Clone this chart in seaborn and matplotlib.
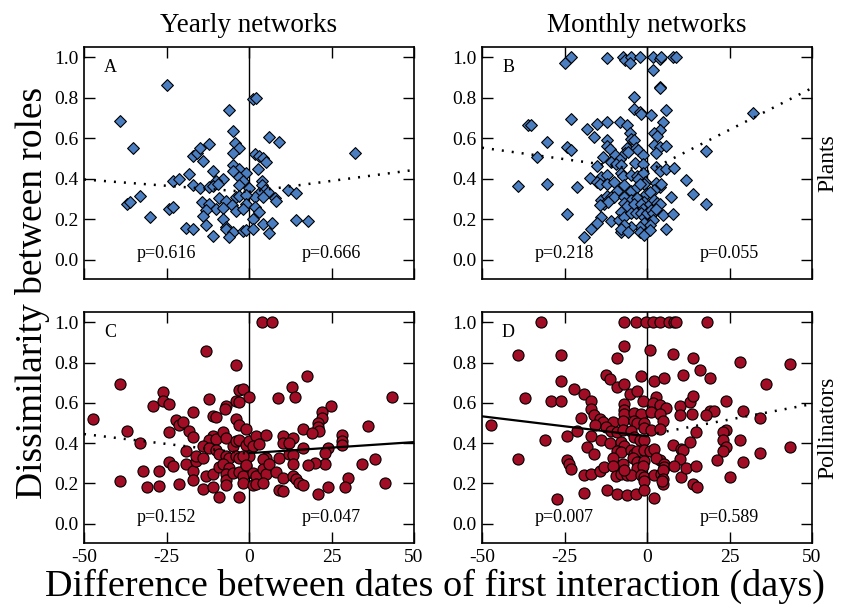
import numpy as np
import pandas as pd
import matplotlib
matplotlib.use("Agg")
import matplotlib.pyplot as plt
import seaborn as sns

# ---------------- data ----------------
# Panel A: yearly networks, plants
A_x = [-39.1, -35.1, -25.0, -37.1, -36.1, -33.0, -30.0, -24.1, -23.1, -23.1, -21.1, -18.1,
       -17.1, -17.1, -15.9, -19.1, -16.9,
       1.1, 2.1, -6.0, -5.0, 6.1, 9.1, -4.2, -2.9, -12.0, -14.8, -5.0, 1.8, 3.1, 4.1, 5.0,
       -14.0, -5.0, 2.8, -2.9, -11.0, -5.0, -0.9, -2.9, -1.9, -8.0, -10.0, 3.9, 3.9, -14.8,
       -12.0, -11.0, -9.3, -2.9, 0.1, 11.9, 14.2, 4.8, 5.9, 3.1, 1.8, 4.3, 7.9, 8.2, -3.9,
       -2.9, -0.9, -9.0, -7.0, -14.3, -12.0, -5.3, -0.9, 1.8, -10.0, -8.0, -3.9, -1.9, 3.1,
       -13.0, -14.0, -8.0, 1.1, 14.2, 18.0, 4.1, 7.1, -13.0, -7.0, -7.0, -5.0, -1.9, -0.9,
       1.1, 6.1, -11.0, -6.0, 32.1]
A_y = [0.686, 0.550, 0.863, 0.274, 0.285, 0.314, 0.211, 0.252, 0.258, 0.388, 0.396, 0.422,
       0.371, 0.512, 0.528, 0.158, 0.153,
       0.792, 0.797, 0.739, 0.637, 0.607, 0.579, 0.578, 0.550, 0.569, 0.554, 0.525, 0.521,
       0.512, 0.500, 0.483, 0.488, 0.467, 0.447, 0.447, 0.439, 0.437, 0.429, 0.409, 0.389,
       0.396, 0.389, 0.389, 0.368, 0.356, 0.360, 0.363, 0.373, 0.368, 0.356, 0.343, 0.327,
       0.343, 0.335, 0.327, 0.310, 0.310, 0.302, 0.289, 0.310, 0.314, 0.318, 0.302, 0.290,
       0.285, 0.277, 0.269, 0.277, 0.261, 0.252, 0.257, 0.241, 0.252, 0.236, 0.244, 0.215,
       0.203, 0.203, 0.195, 0.191, 0.175, 0.182, 0.170, 0.162, 0.149, 0.137, 0.142, 0.145,
       0.149, 0.132, 0.116, 0.112, 0.528]

# Panel B: monthly networks, plants
B_x = [-24.9, -23.1, -36.1, -35.1, -30.2, -33.2, -23.1, -24.1, -22.9, -18.1, -16.1, -39.1,
       -30.2, -21.1, -24.1, -19.1, -17.1, -17.4,
       -12.0, -7.3, -6.6, -4.9, -5.3, -2.2, 1.8, 3.8, 4.3, 7.9, 8.9, 1.8, 3.8, 3.9, -4.0,
       -4.0, -2.2, -1.9, 1.1, 5.9, -15.1, -12.0, -8.3, -6.0, 4.8, -5.1, 3.8, 2.1, 3.1, -5.0,
       -4.0, -12.0, -12.0, -11.3, -6.0, -3.2, -2.7, 2.1, 3.8, 5.9, -13.3, -9.8, -8.3, -6.8,
       -5.8, -1.2, 2.8, -15.1, -11.0, -9.3, -8.0, -3.7, -1.2, 2.8, 3.8, 5.9, 8.1, 11.9, 13.9,
       -14.0, -12.0, -15.1, -14.3, -12.0, -8.0, -7.3, -4.9, -2.9, -1.2, -2.7, -0.7, -0.9,
       -10.0, -9.0, -7.0, -5.0, -2.9, -2.2, 2.8, 3.8, 4.1, 2.1, -0.2, 0.8, 7.2, -14.0, -12.0,
       -11.0, -10.0, -13.0, -11.8, -14.3, -7.0, -5.0, -2.9, -0.9, -7.0, -6.0, -3.9, -1.9,
       -1.2, 0.8, 2.1, 3.1, 3.8, 4.9, 8.0, -14.0, -15.1, -11.0, -8.0, -8.4, -7.0, -5.0, -3.2,
       -1.9, -0.9, 0.1, 1.1, 1.8, 2.8, -0.9, 1.8, 0.8, -2.2, -5.0, -7.0, -8.0, -8.0, -5.8,
       -2.2, -0.9, 0.8, 5.9, 32.1, 18.0, 18.0]
B_y = [0.974, 1.003, 0.665, 0.665, 0.583, 0.505, 0.693, 0.558, 0.541, 0.644, 0.607, 0.363,
       0.373, 0.360, 0.224, 0.112, 0.149, 0.401,
       0.995, 1.003, 0.987, 1.003, 0.974, 1.000, 1.000, 0.990, 1.000, 1.000, 1.003, 0.937,
       0.855, 0.850, 0.805, 0.743, 0.731, 0.720, 0.715, 0.739, 0.670, 0.680, 0.680, 0.665,
       0.680, 0.627, 0.640, 0.624, 0.611, 0.594, 0.591, 0.591, 0.561, 0.545, 0.554, 0.554,
       0.541, 0.566, 0.558, 0.561, 0.505, 0.517, 0.495, 0.525, 0.533, 0.517, 0.525, 0.462,
       0.483, 0.475, 0.467, 0.479, 0.472, 0.459, 0.439, 0.450, 0.455, 0.393, 0.323, 0.409,
       0.417, 0.384, 0.373, 0.376, 0.426, 0.413, 0.417, 0.413, 0.426, 0.396, 0.384, 0.373,
       0.384, 0.340, 0.368, 0.340, 0.360, 0.373, 0.380, 0.360, 0.373, 0.343, 0.323, 0.335,
       0.310, 0.297, 0.314, 0.310, 0.310, 0.277, 0.285, 0.269, 0.310, 0.297, 0.302, 0.285,
       0.281, 0.264, 0.274, 0.277, 0.252, 0.277, 0.297, 0.281, 0.274, 0.219, 0.224, 0.211,
       0.182, 0.191, 0.236, 0.195, 0.211, 0.231, 0.231, 0.228, 0.211, 0.231, 0.244, 0.231,
       0.248, 0.182, 0.198, 0.170, 0.162, 0.162, 0.170, 0.137, 0.149, 0.137, 0.137, 0.120,
       0.145, 0.153, 0.723, 0.538, 0.277]

# Panel C: yearly networks, pollinators
C_x = [-47.2, -39.1, -39.1, -37.1, -33.0, -32.0, -31.0, -29.2, -27.2, -27.2, -26.2, -26.2,
       -24.2, -24.2, -24.2, -23.1, -22.1, -21.1, -20.1, -21.1, -19.1, -19.1, -18.1, -17.1,
       -17.1, -16.9, -16.9, -16.0, -16.0,
       -13.0, -3.9, -2.9, -1.9, -12.0, 0.1, -3.9, -2.9, -7.0, -7.3, -11.0, -10.0, -3.9,
       -2.9, -0.9, 8.9, 13.1, 13.9, 17.7, 16.3, -10.8, -12.0, -10.0, -8.0, -7.0, -14.0,
       -12.0, -13.8, -10.0, -9.0, -7.0, -6.0, -5.0, -3.9, -2.9, -3.9, -2.9, -0.9, 0.1, 2.1,
       1.1, 3.1, 5.1, 10.2, 10.2, 13.2, 12.2, 5.1, 4.1, 0.1, -1.9, -0.9, 9.2, 12.2, 13.2,
       16.3, -13.0, -11.0, -9.0, -8.0, -6.0, -7.0, -7.0, -7.0, -5.0, -2.9, -1.9, -0.9, 1.1,
       2.1, 4.1, 5.1, 6.2, 8.2, 10.2, 13.2, 13.2, 14.2, 15.3, 16.3, -1.9, 1.1, 2.1, 4.1,
       -14.0, -11.0, -9.0, -2.9, 9.2, 10.2,
       3.8, 7.1, 43.2, 24.8, 22.0, 22.0, 21.0, 20.8, 21.2, 19.0, 36.2, 28.1, 28.1, 28.1,
       24.0, 23.0, 38.2, 34.1, 30.1, 29.1, 41.2, 24.0, 21.0, 23.0, 20.0, 18.0]
C_y = [0.521, 0.693, 0.211, 0.459, 0.401, 0.261, 0.182, 0.583, 0.261, 0.186, 0.653, 0.611,
       0.594, 0.455, 0.307, 0.285, 0.517, 0.492, 0.505, 0.198, 0.363, 0.294, 0.462, 0.554,
       0.429, 0.261, 0.219, 0.310, 0.335,
       0.855, 0.789, 0.665, 0.668, 0.620, 0.627, 0.607, 0.602, 0.586, 0.569, 0.536, 0.530,
       0.521, 0.492, 0.470, 0.624, 0.678, 0.629, 0.731, 0.470, 0.437, 0.414, 0.421, 0.454,
       0.426, 0.384, 0.376, 0.327, 0.368, 0.348, 0.335, 0.327, 0.384, 0.409, 0.417, 0.335,
       0.327, 0.393, 0.409, 0.434, 0.384, 0.398, 0.442, 0.437, 0.401, 0.426, 0.401, 0.327,
       0.322, 0.335, 0.335, 0.285, 0.327, 0.348, 0.343, 0.376, 0.236, 0.249, 0.282, 0.294,
       0.277, 0.249, 0.219, 0.190, 0.252, 0.256, 0.236, 0.290, 0.252, 0.236, 0.269, 0.249,
       0.294, 0.256, 0.228, 0.294, 0.239, 0.223, 0.200, 0.190, 0.203, 0.190, 0.195, 0.200,
       0.170, 0.183, 0.134, 0.134, 0.167, 0.162,
       1.000, 1.000, 0.627, 0.583, 0.554, 0.525, 0.500, 0.479, 0.459, 0.450, 0.483, 0.439,
       0.409, 0.393, 0.376, 0.351, 0.323, 0.297, 0.228, 0.182, 0.203, 0.182, 0.145, 0.297,
       0.302, 0.290]

# Panel D: monthly networks, pollinators
D_x = [-47.2, -39.1, -39.1, -37.1, -32.0, -31.0, -29.2, -26.2, -27.2, -26.2, -26.2, -24.1,
       -24.1, -23.7, -22.9, -22.1, -21.1, -20.1, -19.1, -19.1, -19.1, -18.1, -16.9, -16.9,
       -16.1, -16.9, -16.1, -16.9,
       -7.0, -3.2, -0.2, 1.8, 3.8, 6.6, 8.2, 8.9, -7.0, -9.0, 0.8, 7.9, 13.9, 16.0, -12.3,
       -11.3, -9.0, -7.0, -1.9, 2.1, 5.2, 10.9, -5.3, -2.9, -1.2, 2.8, 1.8, 3.8, 5.9, -7.0,
       -7.0, -7.0, -4.0, -1.9, 1.1, 3.8, 4.9, 9.9, 9.9, 12.9, 13.9, 13.6, -14.3, -13.3,
       -10.3, -7.3, -3.9, -2.9, -0.9, -15.9, -12.3, -11.0, -9.0, -7.3, -4.7, -0.9, 1.1, 3.8,
       14.9, -14.0, -11.3, -8.0, -7.0, -3.9, -2.2, -0.9, 7.9, 10.2, 10.9, 12.9, -9.0, -8.0,
       -5.0, -4.0, -2.9, -0.9, 0.8, 2.1, 9.9, 3.8, 2.8, 5.2, 5.2, 8.2, -10.3, -7.3, -4.2,
       -2.9, -0.9, -2.9, -1.2, -14.3, -13.0, -10.3, -9.3, -8.0, -6.0, -5.0, -7.0, -1.9, -0.9,
       -0.9, 2.1, 4.2, 4.9, 4.9, 4.9, 4.4, 10.2, 11.9, 14.9, 13.9, 15.2, -12.0, -9.0, -6.0,
       -3.2, -0.9, 2.1,
       18.2, 19.0, 28.1, 43.2, 36.2, 24.0, 19.0, 20.2, 18.0, 29.1, 34.1, 24.0, 23.0, 23.0,
       24.0, 23.0, 28.1, 21.2, 29.1, 34.1, 43.2, 25.3]
D_y = [0.492, 0.838, 0.323, 0.624, 1.000, 0.417, 0.611, 0.611, 0.120, 0.838, 0.710, 0.434,
       0.318, 0.294, 0.269, 0.670, 0.459, 0.525, 0.644, 0.241, 0.153, 0.380, 0.607, 0.571,
       0.541, 0.434, 0.347, 0.248,
       1.000, 1.000, 1.000, 1.000, 1.000, 1.000, 1.000, 1.000, 0.880, 0.825, 0.863, 0.842,
       0.825, 0.764, 0.736, 0.720, 0.677, 0.693, 0.731, 0.710, 0.723, 0.736, 0.644, 0.657,
       0.611, 0.627, 0.599, 0.587, 0.574, 0.594, 0.566, 0.545, 0.550, 0.545, 0.554, 0.545,
       0.512, 0.583, 0.538, 0.604, 0.632, 0.545, 0.521, 0.505, 0.505, 0.512, 0.508, 0.500,
       0.500, 0.492, 0.479, 0.459, 0.455, 0.467, 0.462, 0.475, 0.467, 0.472, 0.455, 0.413,
       0.401, 0.406, 0.384, 0.429, 0.417, 0.413, 0.393, 0.373, 0.368, 0.406, 0.363, 0.356,
       0.368, 0.347, 0.360, 0.368, 0.363, 0.373, 0.323, 0.314, 0.327, 0.297, 0.280, 0.285,
       0.327, 0.297, 0.327, 0.307, 0.310, 0.277, 0.285, 0.261, 0.280, 0.285, 0.236, 0.248,
       0.244, 0.241, 0.264, 0.244, 0.231, 0.211, 0.244, 0.248, 0.264, 0.224, 0.198, 0.211,
       0.231, 0.274, 0.285, 0.195, 0.182, 0.165, 0.145, 0.142, 0.145, 0.165, 0.125,
       1.000, 0.723, 0.802, 0.792, 0.693, 0.607, 0.561, 0.561, 0.541, 0.558, 0.525, 0.467,
       0.455, 0.413, 0.380, 0.360, 0.417, 0.318, 0.307, 0.351, 0.380, 0.231]

# Fitted lines: value at x=-50 and x=0 (left fit), x=0 and x=50 (right fit)
fit_x_left = [-50, 0]
fit_x_right = [0, 50]
fit_left = {"A": [0.396, 0.334], "B": [0.553, 0.440], "C": [0.445, 0.347], "D": [0.533, 0.434]}
fit_right = {"A": [0.335, 0.443], "B": [0.435, 0.848], "C": [0.350, 0.405], "D": [0.440, 0.594]}
sig_left = {"A": False, "B": False, "C": False, "D": True}
sig_right = {"A": False, "B": False, "C": True, "D": False}
p_left = {"A": "p=0.616", "B": "p=0.218", "C": "p=0.152", "D": "p=0.007"}
p_right = {"A": "p=0.666", "B": "p=0.055", "C": "p=0.047", "D": "p=0.589"}

col_titles = ["Yearly networks", "Monthly networks"]
row_titles = ["Plants", "Pollinators"]
x_ticks = [-50, -25, 0, 25, 50]
y_ticks = [0.0, 0.2, 0.4, 0.6, 0.8, 1.0]

# ---------------- style ----------------
sns.set_style("ticks")
plt.rcParams['font.family'] = ['Liberation Serif', 'DejaVu Serif']
plt.rcParams['axes.unicode_minus'] = False
for k in ['text.color', 'axes.labelcolor', 'xtick.color', 'ytick.color', 'axes.edgecolor']:
    plt.rcParams[k] = 'black'

BLUE = "#4A7EC0"
RED = "#A00D24"

W, H = 842, 605
fig = plt.figure(figsize=(W / 100, H / 100), dpi=100)


def add_ax(l, t, r, b):
    return fig.add_axes([l / W, 1 - b / H, (r - l) / W, (b - t) / H])


boxes = {"A": (84, 47, 414, 279), "B": (482, 47, 812, 279),
         "C": (84, 312, 414, 543), "D": (482, 312, 812, 543)}
data = {"A": (A_x, A_y), "B": (B_x, B_y), "C": (C_x, C_y), "D": (D_x, D_y)}

for key in ["A", "B", "C", "D"]:
    ax = add_ax(*boxes[key])
    top = key in ("A", "B")
    df = pd.DataFrame({"x": data[key][0], "y": data[key][1]})
    if top:
        sns.scatterplot(data=df, x="x", y="y", ax=ax, marker="D", s=36, color=BLUE,
                        edgecolor="black", linewidth=0.8, zorder=3)
    else:
        sns.scatterplot(data=df, x="x", y="y", ax=ax, marker="o", s=64, color=RED,
                        edgecolor="black", linewidth=0.8, zorder=3)
    ax.axvline(0, color="black", lw=1.0, zorder=2)
    for xs, ys, sig in [(fit_x_left, fit_left[key], sig_left[key]),
                        (fit_x_right, fit_right[key], sig_right[key])]:
        ldf = pd.DataFrame({"x": xs, "y": ys})
        if sig:
            sns.lineplot(data=ldf, x="x", y="y", ax=ax, color="black", lw=1.6, zorder=4)
        else:
            sns.lineplot(data=ldf, x="x", y="y", ax=ax, color="black", lw=1.8,
                         linestyle=(0, (0.8, 3.2)), zorder=4)
    ax.set_xlim(-50, 50)
    ax.set_ylim(-0.096, 1.051)
    ax.set_xticks(x_ticks)
    ax.set_yticks(y_ticks)
    ax.set_yticklabels([f"{v:.1f}" for v in y_ticks])
    ax.set_xticklabels([str(v) for v in x_ticks])
    ax.tick_params(direction="in", top=True, right=True, length=8, width=1.0,
                   labelsize=14, pad=4, labelbottom=not top)
    for sp in ax.spines.values():
        sp.set_linewidth(1.2)
        sp.set_visible(True)
    ax.set_xlabel("")
    ax.set_ylabel("")
    ax.text(-42, 0.95, key, fontsize=13, ha="center", va="center")
    ax.text(-25, 0.03, p_left[key], fontsize=13, ha="center", va="center")
    ax.text(25, 0.03, p_right[key], fontsize=13, ha="center", va="center")

fig.text(249 / W, 1 - 25 / H, col_titles[0], fontsize=19.5, ha="center", va="center")
fig.text(647 / W, 1 - 25 / H, col_titles[1], fontsize=19.5, ha="center", va="center")
fig.text(828 / W, 1 - 163 / H, row_titles[0], fontsize=17, ha="center", va="center", rotation=90)
fig.text(828 / W, 1 - 428 / H, row_titles[1], fontsize=17, ha="center", va="center", rotation=90)
fig.text(33 / W, 1 - 293 / H, "Dissimilarity between roles", fontsize=27, ha="center",
         va="center", rotation=90)
fig.text(435 / W, 1 - 596 / H, "Difference between dates of first interaction (days)",
         fontsize=27.5, ha="center", va="baseline")

fig.savefig("out.png", dpi=100)
